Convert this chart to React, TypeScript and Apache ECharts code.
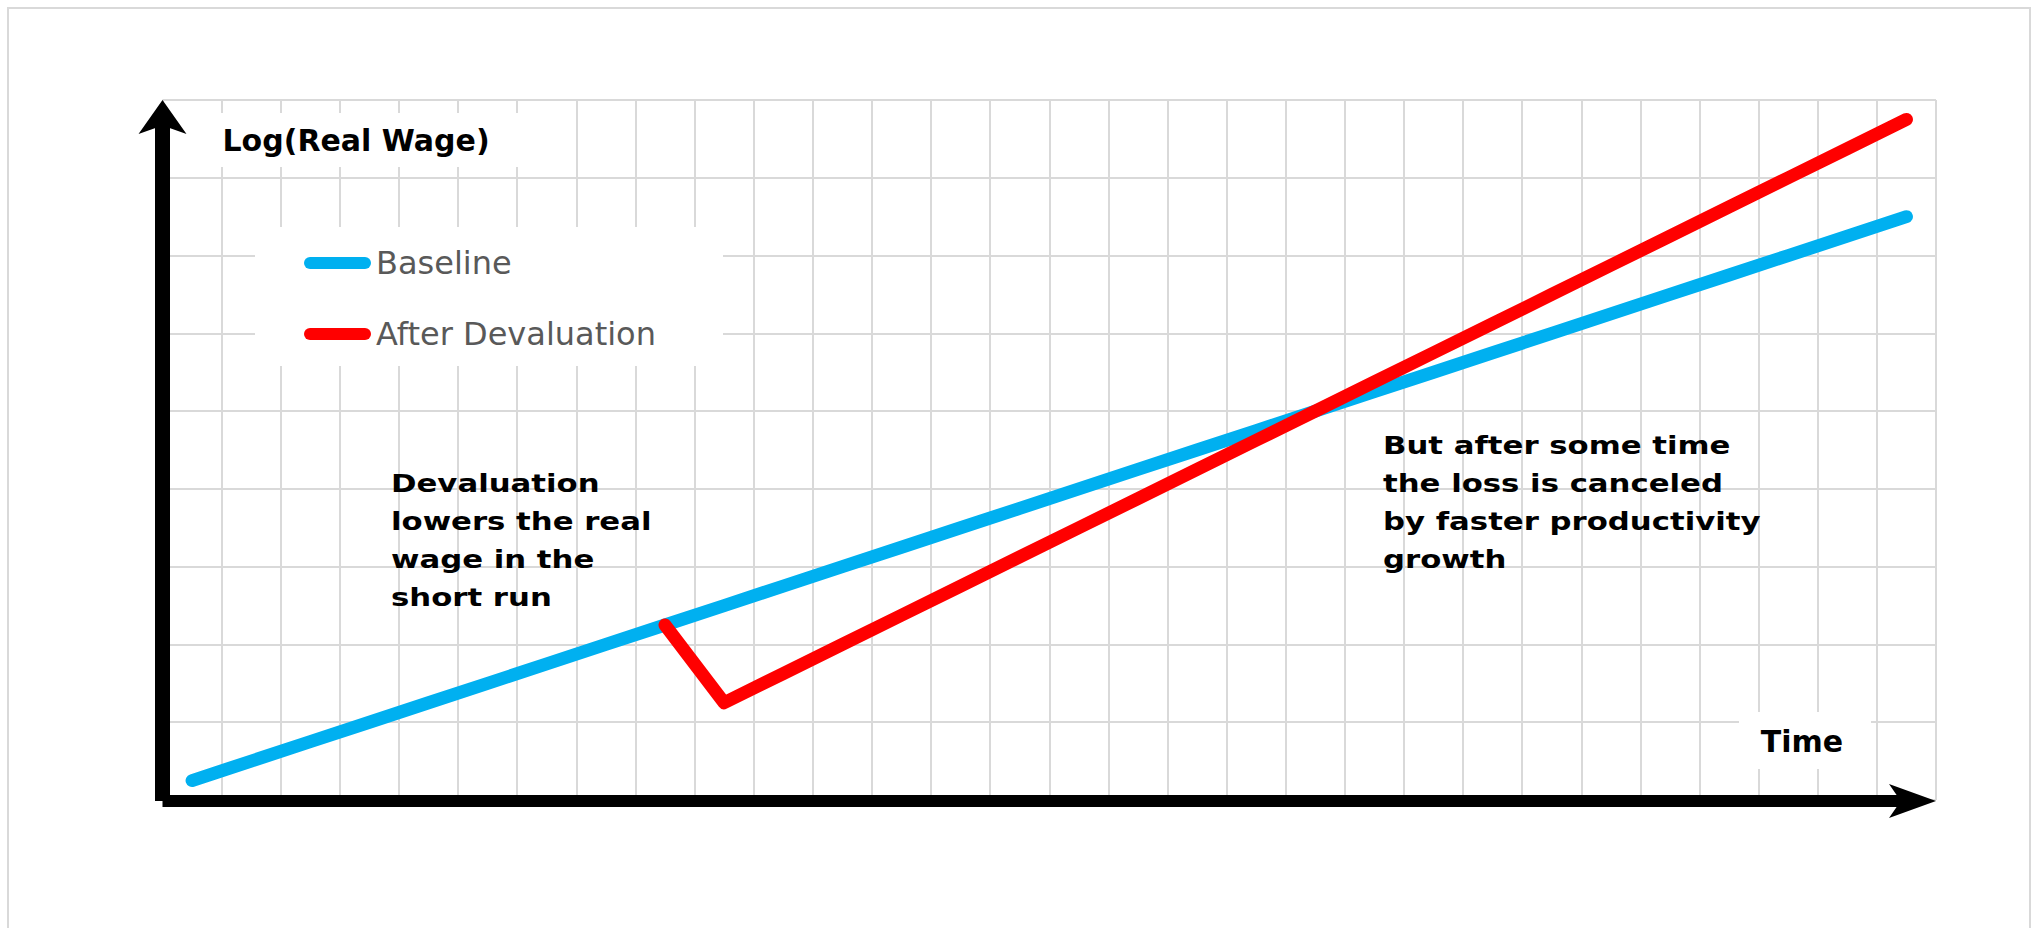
import React, { useEffect, useRef } from "react";
import * as echarts from "echarts";

// ---- data ----
const PERIODS = [
  "1", "2", "3", "4", "5", "6", "7", "8", "9", "10",
  "11", "12", "13", "14", "15", "16", "17", "18", "19", "20",
  "21", "22", "23", "24", "25", "26", "27", "28", "29", "30",
];
const BASELINE = [
  0.25, 0.5, 0.75, 1.0, 1.25, 1.5, 1.75, 2.0, 2.25, 2.5,
  2.75, 3.0, 3.25, 3.5, 3.75, 4.0, 4.25, 4.5, 4.75, 5.0,
  5.25, 5.5, 5.75, 6.0, 6.25, 6.5, 6.75, 7.0, 7.25, 7.5,
];
const AFTER_DEVALUATION = [
  null, null, null, null, null, null, null, null, 2.25, 1.25,
  1.625, 2.0, 2.375, 2.75, 3.125, 3.5, 3.875, 4.25, 4.625, 5.0,
  5.375, 5.75, 6.125, 6.5, 6.875, 7.25, 7.625, 8.0, 8.375, 8.75,
];
const SERIES_NAMES = ["Baseline", "After Devaluation"];
const SERIES_COLORS = ["#00B0F0", "#FF0000"];
const Y_AXIS_NAME = "Log(Real Wage)";
const X_AXIS_NAME = "Time";
const NOTE_SHORT_RUN = "Devaluation\nlowers the real\nwage in the\nshort run";
const NOTE_LONG_RUN = "But after some time\nthe loss is canceled\nby faster productivity\ngrowth";
const Y_MIN = 0;
const Y_MAX = 9;
const Y_STEP = 1;

const FONT = '"DejaVu Sans", "Noto Sans", sans-serif';
const GRID_COLOR = "#d9d9d9";

export default function App() {
  const ref = useRef<HTMLDivElement | null>(null);

  useEffect(() => {
    if (!ref.current) return;
    const chart = echarts.init(ref.current, null, { renderer: "svg" });

    const noteStyle = (text: string) => ({
      text,
      fontFamily: FONT,
      fontSize: 25,
      fontWeight: "bold",
      fill: "#000000",
      lineHeight: 38,
      align: "left",
      verticalAlign: "top",
      textAlign: "left",
      textVerticalAlign: "top",
    });

    const option: any = {
      animation: false,
      backgroundColor: "#ffffff",
      textStyle: { fontFamily: FONT },
      grid: [
        // grid for data + gridlines
        { left: 162.5, right: 102, top: 100, bottom: 128, containLabel: false, outerBoundsMode: "none" },
        // grid for the arrowed axes
        { left: 162.5, right: 119, top: 111, bottom: 127, containLabel: false, outerBoundsMode: "none" },
      ],
      legend: {
        data: SERIES_NAMES,
        orient: "vertical",
        left: 304,
        top: 247,
        padding: 0,
        itemWidth: 67,
        itemHeight: 12,
        itemGap: 39,
        selectedMode: false,
        icon: "path://M6,0 L61,0 A6,6 0 0 1 61,12 L6,12 A6,6 0 0 1 6,0 Z",
        itemStyle: { borderWidth: 0 },
        textStyle: { fontFamily: FONT, fontSize: 32, color: "#595959", lineHeight: 30 },
        z: 4,
      },
      xAxis: [
        {
          type: "category",
          gridIndex: 0,
          data: PERIODS,
          boundaryGap: true,
          axisLine: { show: false },
          axisTick: { show: false },
          axisLabel: { show: false },
          splitLine: { show: true, interval: 0, lineStyle: { color: GRID_COLOR, width: 2 } },
        },
        {
          type: "value",
          gridIndex: 1,
          min: 0,
          max: 1,
          z: 5,
          name: X_AXIS_NAME,
          nameLocation: "end",
          nameGap: -117,
          nameTextStyle: {
            fontFamily: FONT,
            fontSize: 30,
            fontWeight: "bold",
            color: "#000000",
            align: "center",
            verticalAlign: "bottom",
            lineHeight: 30,
            padding: [0, 0, 45, 0],
          },
          axisLine: {
            show: true,
            onZero: false,
            symbol: ["none", "arrow"],
            symbolSize: [25.5, 47],
            symbolOffset: [0, 17],
            lineStyle: { color: "#000000", width: 12, cap: "butt" },
          },
          axisTick: { show: false },
          axisLabel: { show: false },
          splitLine: { show: false },
        },
      ],
      yAxis: [
        {
          type: "value",
          gridIndex: 0,
          min: Y_MIN,
          max: Y_MAX,
          interval: Y_STEP,
          axisLine: { show: false },
          axisTick: { show: false },
          axisLabel: { show: false },
          splitLine: { show: true, lineStyle: { color: GRID_COLOR, width: 2 } },
        },
        {
          type: "value",
          gridIndex: 1,
          min: 0,
          max: 1,
          z: 5,
          name: Y_AXIS_NAME,
          nameLocation: "end",
          nameGap: -29,
          nameTextStyle: {
            fontFamily: FONT,
            fontSize: 30,
            fontWeight: "bold",
            color: "#000000",
            align: "left",
            verticalAlign: "middle",
            lineHeight: 30,
            padding: [0, 0, 0, 60],
          },
          axisLine: {
            show: true,
            onZero: false,
            symbol: ["none", "arrow"],
            symbolSize: [36, 34],
            symbolOffset: [0, 11],
            lineStyle: { color: "#000000", width: 15, cap: "butt" },
          },
          axisTick: { show: false },
          axisLabel: { show: false },
          splitLine: { show: false },
        },
      ],
      series: [
        {
          name: SERIES_NAMES[0],
          type: "line",
          xAxisIndex: 0,
          yAxisIndex: 0,
          data: BASELINE,
          symbol: "none",
          silent: true,
          color: SERIES_COLORS[0],
          lineStyle: { color: SERIES_COLORS[0], width: 13, cap: "round", join: "round" },
          z: 2,
        },
        {
          name: SERIES_NAMES[1],
          type: "line",
          xAxisIndex: 0,
          yAxisIndex: 0,
          data: AFTER_DEVALUATION,
          symbol: "none",
          silent: true,
          connectNulls: false,
          color: SERIES_COLORS[1],
          lineStyle: { color: SERIES_COLORS[1], width: 13, cap: "round", join: "round" },
          z: 3,
        },
      ],
      graphic: [
        {
          type: "rect",
          z: 0,
          silent: true,
          shape: { x: 8, y: 8, width: 2022, height: 960 },
          style: { fill: "none", stroke: GRID_COLOR, lineWidth: 2 },
        },
        {
          type: "rect",
          z: 1,
          silent: true,
          shape: { x: 171, y: 113, width: 375, height: 54 },
          style: { fill: "#ffffff" },
        },
        {
          type: "rect",
          z: 1,
          silent: true,
          shape: { x: 255, y: 227, width: 468, height: 139 },
          style: { fill: "#ffffff" },
        },
        {
          type: "rect",
          z: 1,
          silent: true,
          shape: { x: 1739, y: 712, width: 132, height: 57 },
          style: { fill: "#ffffff" },
        },
        {
          type: "text",
          z: 6,
          silent: true,
          x: 391,
          y: 465,
          scaleX: 1.23,
          style: noteStyle(NOTE_SHORT_RUN),
        },
        {
          type: "text",
          z: 6,
          silent: true,
          x: 1383,
          y: 427,
          scaleX: 1.23,
          style: noteStyle(NOTE_LONG_RUN),
        },
      ],
    };

    chart.setOption(option);
    return () => {
      chart.dispose();
    };
  }, []);

  return (
    <div
      ref={ref}
      style={{
        position: "fixed",
        left: 0,
        top: 0,
        width: "2038px",
        height: "928px",
        background: "#ffffff",
      }}
    />
  );
}
